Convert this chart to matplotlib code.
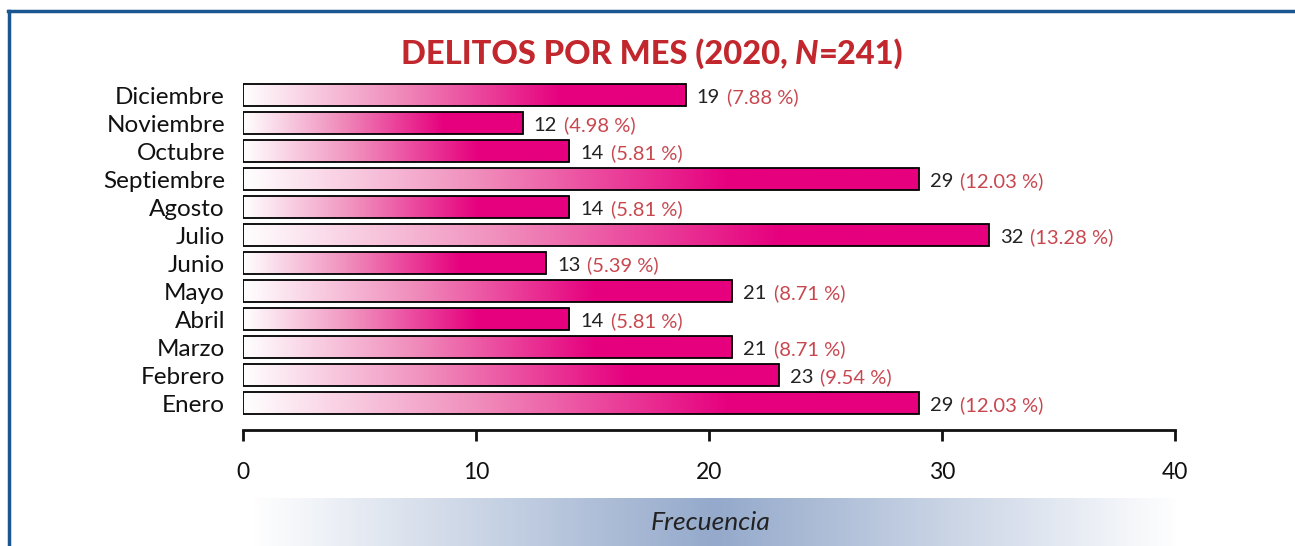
import matplotlib.pyplot as plt
import numpy as np
from matplotlib.colors import LinearSegmentedColormap
from matplotlib.lines import Line2D

meses = ['Enero', 'Febrero', 'Marzo', 'Abril', 'Mayo', 'Junio', 'Julio',
         'Agosto', 'Septiembre', 'Octubre', 'Noviembre', 'Diciembre']
delitos = [29, 23, 21, 14, 21, 13, 32, 14, 29, 14, 12, 19]
porcentajes = ['12.03', '9.54', '8.71', '5.81', '8.71', '5.39', '13.28',
               '5.81', '12.03', '5.81', '4.98', '7.88']
xticks = [0, 10, 20, 30, 40]

plt.rcParams['font.family'] = ['Lato', 'DejaVu Sans']

magenta = '#e6007e'
rojo = '#c1272d'
azul = '#1a5690'

fig = plt.figure(figsize=(12.95, 5.46), dpi=100)
W, H = 1295, 546

ax = fig.add_axes([243 / W, (H - 430) / H, (1175 - 243) / W, 350 / H])

bar_cmap = LinearSegmentedColormap.from_list(
    'barra', [(0, '#ffffff'), (0.35, '#f08cbb'), (0.72, magenta), (1, magenta)])
grad = np.linspace(0, 1, 256).reshape(1, -1)
alto = 0.78

for i, v in enumerate(delitos):
    ax.imshow(grad, cmap=bar_cmap, aspect='auto', interpolation='bilinear',
              extent=(0, v, i - alto / 2, i + alto / 2), zorder=2)
ax.barh(range(len(meses)), delitos, height=alto, facecolor='none',
        edgecolor='black', linewidth=1.3, zorder=3)

for i, v in enumerate(delitos):
    t = ax.annotate(f'{v}', xy=(v, i), xytext=(8, -1.5), textcoords='offset points',
                    va='center', ha='left', fontsize=14.5, color='#222222')
    ax.annotate(f'({porcentajes[i]} %)', xy=(1, 0.5), xycoords=t,
                xytext=(5, 0), textcoords='offset points',
                va='center', ha='left', fontsize=14.5, color='#c8474f')

ax.set_xlim(0, 40)
ax.set_ylim(-0.96, 11.54)
ax.set_xticks(xticks)
ax.set_yticks(range(len(meses)))
ax.set_yticklabels(meses, fontsize=17.5, color='#111111')
ax.tick_params(axis='y', length=0, pad=13)
ax.tick_params(axis='x', length=8, width=2, direction='out', pad=15,
               labelsize=16.5, colors='#111111')
for s in ['top', 'right', 'left']:
    ax.spines[s].set_visible(False)
ax.spines['bottom'].set_linewidth(2)
ax.spines['bottom'].set_color('#111111')

# titulo en tres piezas para la N en cursiva
fig.canvas.draw()
r = fig.canvas.get_renderer()
piezas = [('DELITOS POR MES (2020, ', 'normal'), ('N', 'italic'), ('=241)', 'normal')]
textos = [fig.text(0, 0, p, fontsize=23.5, fontweight='black', style=s, color=rojo)
          for p, s in piezas]
anchos = [t.get_window_extent(r).width for t in textos]
x = 652 - sum(anchos) / 2
for t, w in zip(textos, anchos):
    t.set_position((x / W, (H - 64) / H))
    x += w

# banda de Frecuencia
bx = fig.add_axes([250 / W, 0, (1180 - 250) / W, 48 / H])
band_cmap = LinearSegmentedColormap.from_list(
    'banda', [(0, '#ffffff'), (0.5, '#94a9cb'), (1, '#ffffff')])
bx.imshow(grad, cmap=band_cmap, aspect='auto', extent=(0, 1, 0, 1))
bx.set_axis_off()
bx.text(0.495, 0.5, 'Frecuencia', ha='center', va='center', fontsize=19,
        style='italic', color='#222222')

# marco azul
fig.add_artist(Line2D([9 / W, 9 / W], [0, (H - 11) / H], color=azul, lw=2.5))
fig.add_artist(Line2D([8 / W, 1], [(H - 11) / H, (H - 11) / H], color=azul, lw=2.5))

fig.savefig('out.png', dpi=100)
